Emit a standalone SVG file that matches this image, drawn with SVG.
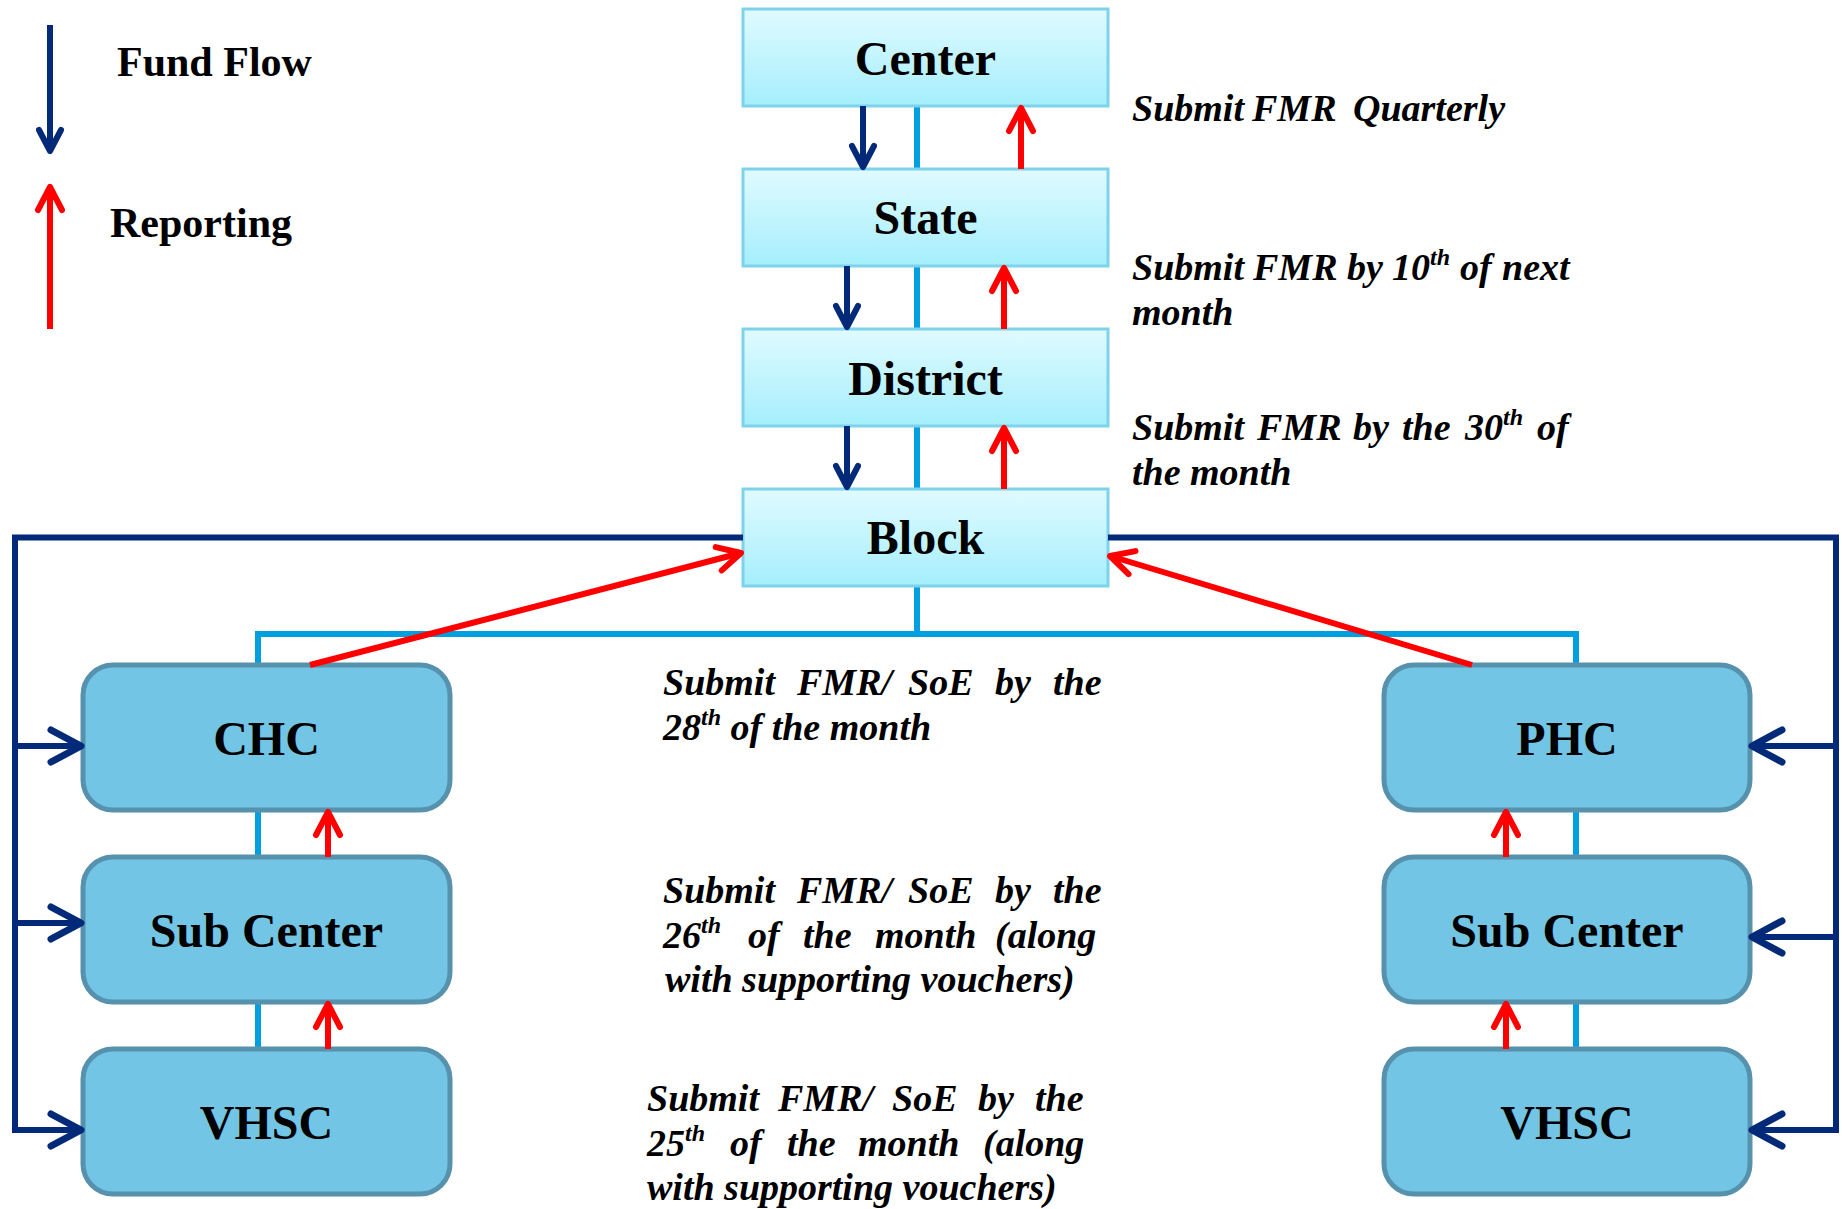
<svg xmlns="http://www.w3.org/2000/svg" width="1842" height="1209" viewBox="0 0 1842 1209">
  <style>
    .lbl { font-family: "Liberation Serif", "Times New Roman", serif; font-weight: bold; font-size: 48px; fill: #000; text-anchor: middle; }
    .leg { font-family: "Liberation Serif", "Times New Roman", serif; font-weight: bold; font-size: 42px; fill: #000; }
    .note { font-family: "Liberation Serif", "Times New Roman", serif; font-weight: bold; font-style: italic; font-size: 38px; fill: #000; }
    .sup { font-size: 24px; }
    .top { fill: url(#topFill); stroke: #7fd2ec; stroke-width: 3; }
    .low { fill: #72c5e4; stroke: #5692ad; stroke-width: 5; }
    .fund { fill: none; stroke: #022a78; stroke-width: 6; }
    .rep { fill: none; stroke: #ff0000; stroke-width: 6; }
    .tie { fill: none; stroke: #00a0e0; stroke-width: 6; }
  </style>
  <defs>
    <linearGradient id="topFill" x1="0" y1="0" x2="0" y2="1">
      <stop offset="0" stop-color="#e0fbff"/>
      <stop offset="1" stop-color="#a5eefc"/>
    </linearGradient>
    <marker id="fundBig" markerUnits="userSpaceOnUse" viewBox="-40 -22 46 44" refX="0" refY="0" markerWidth="46" markerHeight="44" orient="auto" overflow="visible">
      <path d="M-30 -16 L0 0 L-30 16" fill="none" stroke="#022a78" stroke-width="7" stroke-linecap="round" stroke-linejoin="round"/>
    </marker>
    <marker id="fundSmall" markerUnits="userSpaceOnUse" viewBox="-30 -16 34 32" refX="0" refY="0" markerWidth="34" markerHeight="32" orient="auto" overflow="visible">
      <path d="M-21 -11 L0 0 L-21 11" fill="none" stroke="#022a78" stroke-width="6" stroke-linecap="round" stroke-linejoin="round"/>
    </marker>
    <marker id="repHead" markerUnits="userSpaceOnUse" viewBox="-30 -16 34 32" refX="0" refY="0" markerWidth="34" markerHeight="32" orient="auto" overflow="visible">
      <path d="M-23 -12 L0 0 L-23 12" fill="none" stroke="#ff0000" stroke-width="6" stroke-linecap="round" stroke-linejoin="round"/>
    </marker>
  </defs>

  <rect width="1842" height="1209" fill="#ffffff"/>

  <!-- legend -->
  <g id="legend">
    <line class="fund" x1="50" y1="25" x2="50" y2="151" marker-end="url(#fundSmall)"/>
    <text class="leg" x="117" y="76">Fund Flow</text>
    <line class="rep" x1="50" y1="329" x2="50" y2="187" marker-end="url(#repHead)"/>
    <text class="leg" x="110" y="237">Reporting</text>
  </g>

  <!-- structural tie lines (drawn beneath the nodes) -->
  <g id="ties">
    <path class="tie" d="M917 106 V169 M917 266 V329 M917 426 V489 M917 586 V634 M258 665 V634 H1576 V665"/>
    <path class="tie" d="M258 810 V857 M258 1002 V1049 M1576 810 V857 M1576 1002 V1049"/>
  </g>

  <!-- upper levels -->
  <g id="center"><rect class="top" x="743" y="9" width="365" height="97"/><text class="lbl" x="925.5" y="75">Center</text></g>
  <g id="state"><rect class="top" x="743" y="169" width="365" height="97"/><text class="lbl" x="925.5" y="234">State</text></g>
  <g id="district"><rect class="top" x="743" y="329" width="365" height="97"/><text class="lbl" x="925.5" y="395">District</text></g>
  <g id="block"><rect class="top" x="743" y="489" width="365" height="97"/><text class="lbl" x="925.5" y="554">Block</text></g>

  <!-- left branch -->
  <g id="chc"><rect class="low" x="83" y="665" width="367" height="145" rx="30"/><text class="lbl" x="266.5" y="755">CHC</text></g>
  <g id="subcenter-left"><rect class="low" x="83" y="857" width="367" height="145" rx="30"/><text class="lbl" x="266.5" y="947">Sub Center</text></g>
  <g id="vhsc-left"><rect class="low" x="83" y="1049" width="367" height="145" rx="30"/><text class="lbl" x="266.5" y="1139">VHSC</text></g>

  <!-- right branch -->
  <g id="phc"><rect class="low" x="1384" y="665" width="366" height="145" rx="30"/><text class="lbl" x="1567" y="755">PHC</text></g>
  <g id="subcenter-right"><rect class="low" x="1384" y="857" width="366" height="145" rx="30"/><text class="lbl" x="1567" y="947">Sub Center</text></g>
  <g id="vhsc-right"><rect class="low" x="1384" y="1049" width="366" height="145" rx="30"/><text class="lbl" x="1567" y="1139">VHSC</text></g>

  <!-- connectors: fund flow (navy) and reporting (red) -->
  <g id="connectors">
    <line class="fund" x1="863" y1="106" x2="863" y2="167" marker-end="url(#fundSmall)"/>
    <line class="fund" x1="847" y1="266" x2="847" y2="327" marker-end="url(#fundSmall)"/>
    <line class="fund" x1="847" y1="426" x2="847" y2="487" marker-end="url(#fundSmall)"/>

    <line class="rep" x1="1021" y1="169" x2="1021" y2="108" marker-end="url(#repHead)"/>
    <line class="rep" x1="1004" y1="329" x2="1004" y2="268" marker-end="url(#repHead)"/>
    <line class="rep" x1="1004" y1="489" x2="1004" y2="428" marker-end="url(#repHead)"/>

    <line class="rep" x1="310" y1="665" x2="741" y2="553" marker-end="url(#repHead)"/>
    <line class="rep" x1="1472" y1="665" x2="1110" y2="556" marker-end="url(#repHead)"/>

    <line class="rep" x1="328" y1="857" x2="328" y2="812" marker-end="url(#repHead)"/>
    <line class="rep" x1="328" y1="1049" x2="328" y2="1004" marker-end="url(#repHead)"/>
    <line class="rep" x1="1506" y1="857" x2="1506" y2="812" marker-end="url(#repHead)"/>
    <line class="rep" x1="1506" y1="1049" x2="1506" y2="1004" marker-end="url(#repHead)"/>

    <path class="fund" d="M743 537.5 H15 V1130"/>
    <path class="fund" d="M1108 537.5 H1836 V1130" stroke-width="7"/>
    <line class="fund" x1="15" y1="746" x2="81" y2="746" marker-end="url(#fundBig)"/>
    <line class="fund" x1="15" y1="923" x2="81" y2="923" marker-end="url(#fundBig)"/>
    <line class="fund" x1="12" y1="1130" x2="81" y2="1130" marker-end="url(#fundBig)"/>
    <line class="fund" x1="1836" y1="746" x2="1752" y2="746" marker-end="url(#fundBig)"/>
    <line class="fund" x1="1836" y1="937" x2="1752" y2="937" marker-end="url(#fundBig)"/>
    <line class="fund" x1="1839" y1="1130" x2="1752" y2="1130" marker-end="url(#fundBig)"/>
  </g>

  <!-- reporting deadlines -->
  <g id="notes">
    <text class="note" y="121"><tspan x="1132">Submit</tspan><tspan x="1252">FMR</tspan><tspan x="1353">Quarterly</tspan></text>
    <text class="note" y="280"><tspan x="1132">Submit</tspan><tspan x="1253">FMR</tspan><tspan x="1347">by</tspan><tspan x="1392">10</tspan><tspan class="sup" dy="-15">th</tspan><tspan x="1460" dy="15">of</tspan><tspan x="1502">next</tspan></text>
    <text class="note" x="1132" y="325">month</text>
    <text class="note" y="440"><tspan x="1132">Submit</tspan><tspan x="1257">FMR</tspan><tspan x="1353">by</tspan><tspan x="1402">the</tspan><tspan x="1465">30</tspan><tspan class="sup" dy="-15">th</tspan><tspan x="1537" dy="15">of</tspan></text>
    <text class="note" x="1132" y="485">the month</text>

    <text class="note" y="695"><tspan x="663">Submit</tspan><tspan x="797">FMR/</tspan><tspan x="908">SoE</tspan><tspan x="995">by</tspan><tspan x="1053">the</tspan></text>
    <text class="note" y="740"><tspan x="663">28</tspan><tspan class="sup" dy="-15">th</tspan><tspan dy="15"> of the month</tspan></text>

    <text class="note" y="903"><tspan x="663">Submit</tspan><tspan x="797">FMR/</tspan><tspan x="908">SoE</tspan><tspan x="995">by</tspan><tspan x="1053">the</tspan></text>
    <text class="note" y="948"><tspan x="663">26</tspan><tspan class="sup" dy="-15">th</tspan><tspan x="748" dy="15">of</tspan><tspan x="803">the</tspan><tspan x="875">month</tspan><tspan x="995">(along</tspan></text>
    <text class="note" x="665" y="992">with supporting vouchers)</text>

    <text class="note" y="1111"><tspan x="647">Submit</tspan><tspan x="778">FMR/</tspan><tspan x="892">SoE</tspan><tspan x="978">by</tspan><tspan x="1035">the</tspan></text>
    <text class="note" y="1156"><tspan x="647">25</tspan><tspan class="sup" dy="-15">th</tspan><tspan x="730" dy="15">of</tspan><tspan x="787">the</tspan><tspan x="858">month</tspan><tspan x="983">(along</tspan></text>
    <text class="note" x="647" y="1200">with supporting vouchers)</text>
  </g>
</svg>
